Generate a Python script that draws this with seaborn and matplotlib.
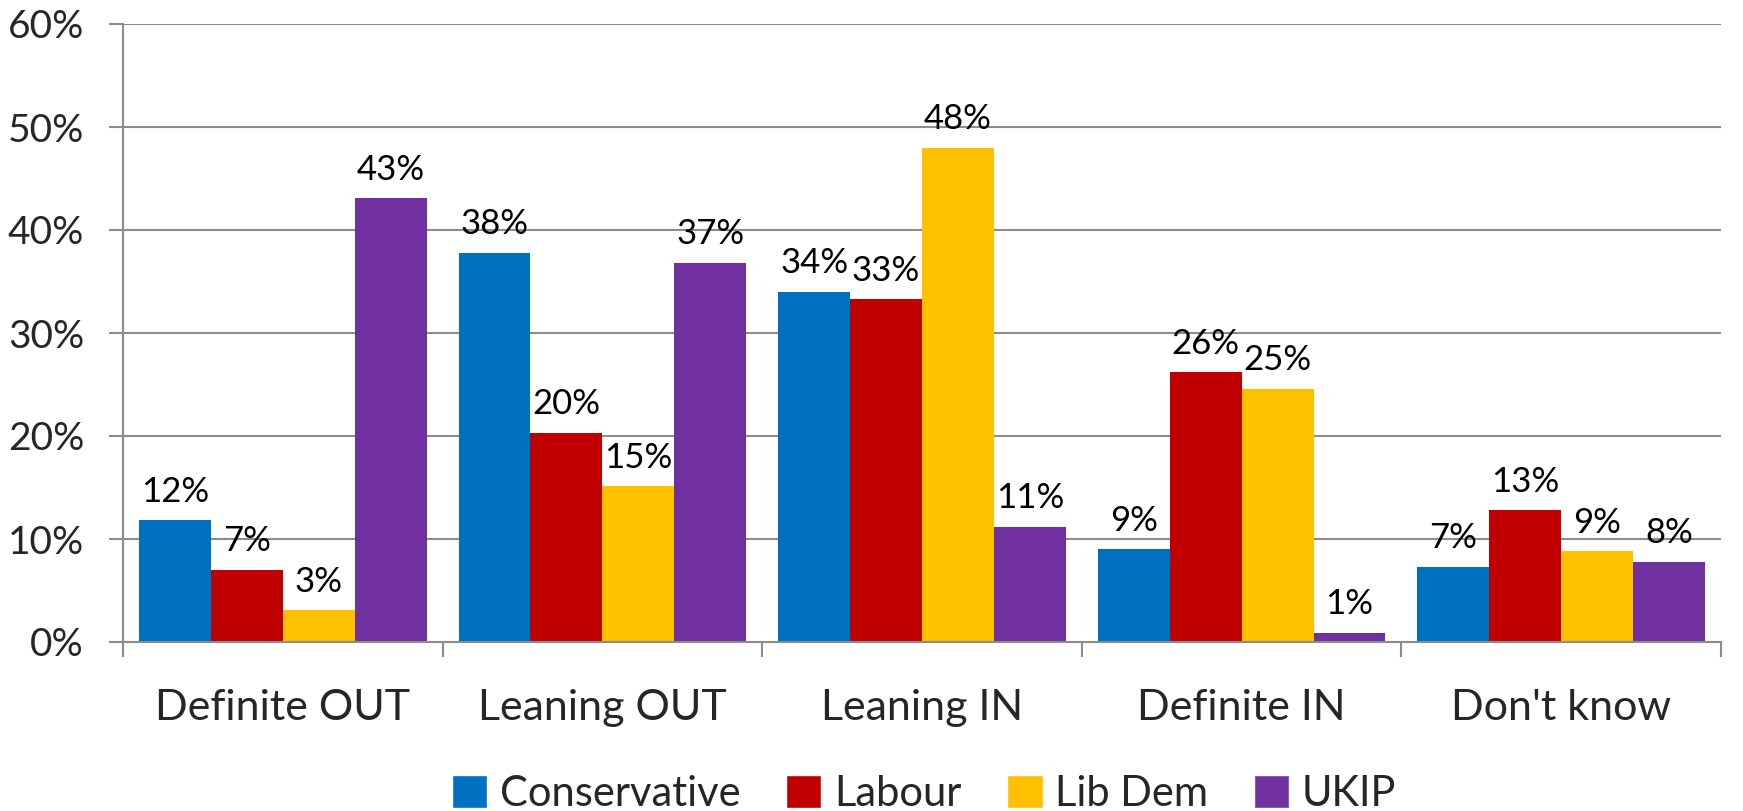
import matplotlib
matplotlib.use("Agg")
import matplotlib.pyplot as plt
import seaborn as sns
import pandas as pd
from matplotlib.patches import Patch
from matplotlib.ticker import FuncFormatter

categories = ["Definite OUT", "Leaning OUT", "Leaning IN", "Definite IN", "Don't know"]
parties = ["Conservative", "Labour", "Lib Dem", "UKIP"]
conservative = [11.8, 37.8, 34.0, 9.0, 7.3]
labour = [7.0, 20.3, 33.3, 26.2, 12.8]
lib_dem = [3.1, 15.1, 48.0, 24.6, 8.8]
ukip = [43.1, 36.8, 11.2, 0.9, 7.8]
colors = ["#0070C0", "#C00000", "#FFC000", "#7030A0"]
y_ticks = [0, 10, 20, 30, 40, 50, 60]

rows = []
for party, vals in zip(parties, [conservative, labour, lib_dem, ukip]):
    for cat, v in zip(categories, vals):
        rows.append({"category": cat, "party": party, "value": v})
df = pd.DataFrame(rows)

sns.set_theme(style="white")
plt.rcParams["font.family"] = ["Lato", "DejaVu Sans"]

fig = plt.figure(figsize=(17.43, 8.11), dpi=100)
ax = fig.add_axes([123/1743, 1-642/811, (1721-123)/1743, (642-24)/811])

sns.barplot(data=df, x="category", y="value", hue="party", order=categories,
            hue_order=parties, palette=colors, width=0.9, saturation=1,
            linewidth=0, ax=ax, legend=False, errorbar=None)

for cont in ax.containers:
    ax.bar_label(cont, labels=[f"{v:.0f}%" for v in cont.datavalues],
                 padding=9, fontsize=25, color="black")

grid_c = "#8C8C8C"
ax.set_ylim(0, 60)
ax.set_xlim(-0.5, 4.5)
ax.set_yticks(y_ticks)
ax.yaxis.set_major_formatter(FuncFormatter(lambda v, p: f"{v:.0f}%"))
ax.yaxis.grid(True, color=grid_c, linewidth=1.5)
ax.set_axisbelow(True)
for s in ["top", "right"]:
    ax.spines[s].set_visible(False)
for s in ["left", "bottom"]:
    ax.spines[s].set_color(grid_c)
    ax.spines[s].set_linewidth(1.5)

ax.set_xticks(range(len(categories)))
ax.set_xticklabels(categories, fontsize=31)
ax.tick_params(axis="x", length=0, pad=34)
ax.set_xticks([i - 0.5 for i in range(len(categories) + 1)], minor=True)
ax.tick_params(axis="x", which="minor", length=11, width=1.5, color=grid_c, direction="out", bottom=True)
ax.tick_params(axis="y", length=10, width=1.5, color=grid_c, labelsize=28, pad=18, left=True)
ax.set_xlabel("")
ax.set_ylabel("")

handles = [Patch(facecolor=c, label=p) for c, p in zip(colors, parties)]
fig.legend(handles=handles, loc="center", bbox_to_anchor=(924/1743, 1-794/811),
           ncol=4, frameon=False, fontsize=30, handlelength=0.85, handleheight=0.85,
           handletextpad=0.3, columnspacing=1.1)

fig.savefig("out.png", dpi=100)
